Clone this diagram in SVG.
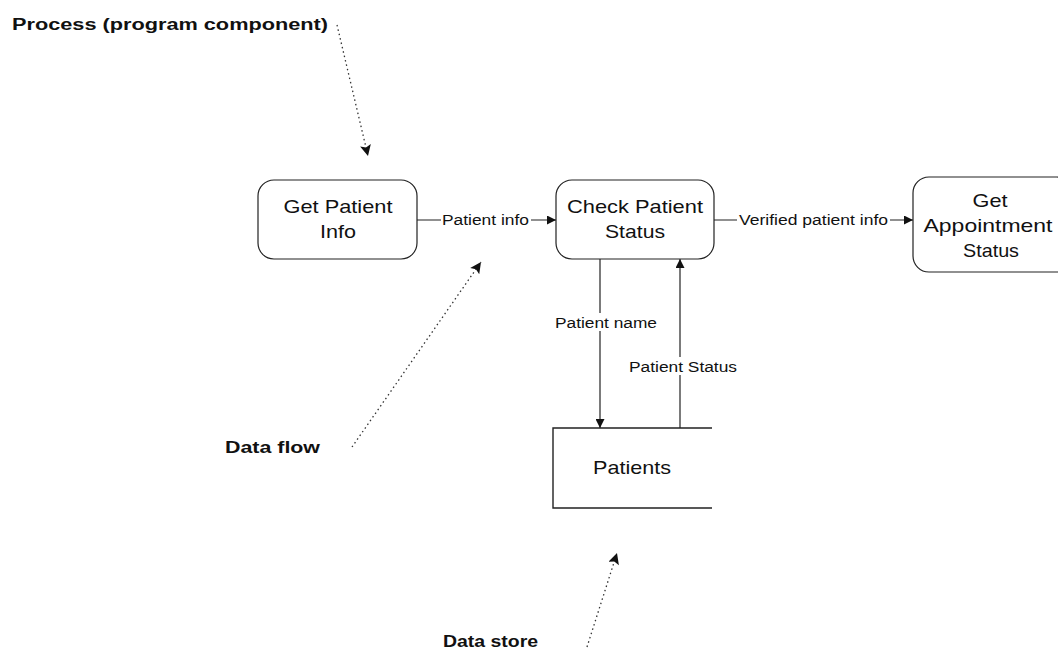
<svg xmlns="http://www.w3.org/2000/svg" width="1058" height="656" viewBox="0 0 1058 656">
  <defs>
    <marker id="arrow" viewBox="0 0 10 10" refX="10" refY="5" markerWidth="10" markerHeight="9" markerUnits="userSpaceOnUse" orient="auto">
      <path d="M0,0 L10,5 L0,10 z" fill="#111"/>
    </marker>
    <marker id="pointer" viewBox="0 0 10 10" refX="10" refY="5" markerWidth="13" markerHeight="11" markerUnits="userSpaceOnUse" orient="auto">
      <path d="M0,0 L10,5 L0,10 L2,5 z" fill="#111"/>
    </marker>
    <style>
      .proc { fill: #fff; stroke: #222; stroke-width: 1.2; }
      .store { fill: none; stroke: #222; stroke-width: 1.4; }
      .flow { fill: none; stroke: #222; stroke-width: 1.2; }
      .note { fill: none; stroke: #333; stroke-width: 1.3; stroke-dasharray: 1.5 3; }
      .t { font-family: "Liberation Sans", Arial, sans-serif; fill: #111; }
      .big { font-size: 19px; text-anchor: middle; }
      .lbl { font-size: 14px; }
      .callout { font-size: 16px; font-weight: bold; }
      .bg { fill: #fff; }
    </style>
  </defs>

  <!-- data flows -->
  <g id="connectors">
    <line class="flow" x1="417" y1="220" x2="556" y2="220" marker-end="url(#arrow)"/>
    <rect class="bg" x="441" y="210" width="90" height="18"/>
    <text class="t lbl" x="442" y="225" textLength="87" lengthAdjust="spacingAndGlyphs">Patient info</text>

    <line class="flow" x1="714" y1="220" x2="913" y2="220" marker-end="url(#arrow)"/>
    <rect class="bg" x="737" y="210" width="153" height="18"/>
    <text class="t lbl" x="739" y="225" textLength="149" lengthAdjust="spacingAndGlyphs">Verified patient info</text>

    <line class="flow" x1="600" y1="259" x2="600" y2="428" marker-end="url(#arrow)"/>
    <rect class="bg" x="553" y="313" width="106" height="18"/>
    <text class="t lbl" x="555" y="328" textLength="102" lengthAdjust="spacingAndGlyphs">Patient name</text>

    <line class="flow" x1="680" y1="428" x2="680" y2="259" marker-end="url(#arrow)"/>
    <rect class="bg" x="627" y="357" width="112" height="18"/>
    <text class="t lbl" x="629" y="372" textLength="108" lengthAdjust="spacingAndGlyphs">Patient Status</text>
  </g>

  <!-- processes -->
  <g id="get-patient-info">
    <rect class="proc" x="258" y="180" width="159" height="79" rx="16" ry="16"/>
    <text class="t big" x="338" y="213" textLength="109" lengthAdjust="spacingAndGlyphs">Get Patient</text>
    <text class="t big" x="338" y="238" textLength="36" lengthAdjust="spacingAndGlyphs">Info</text>
  </g>

  <g id="check-patient-status">
    <rect class="proc" x="556" y="180" width="158" height="79" rx="16" ry="16"/>
    <text class="t big" x="635" y="213" textLength="136" lengthAdjust="spacingAndGlyphs">Check Patient</text>
    <text class="t big" x="635" y="238" textLength="60" lengthAdjust="spacingAndGlyphs">Status</text>
  </g>

  <g id="get-appointment-status">
    <rect class="proc" x="913" y="177" width="160" height="95" rx="16" ry="16"/>
    <text class="t big" x="990" y="207" textLength="35" lengthAdjust="spacingAndGlyphs">Get</text>
    <text class="t big" x="988" y="232" textLength="129" lengthAdjust="spacingAndGlyphs">Appointment</text>
    <text class="t big" x="991" y="257" textLength="56" lengthAdjust="spacingAndGlyphs">Status</text>
  </g>

  <!-- data store: open on the right -->
  <g id="patients-store">
    <path class="store" d="M712,428 H553 V508 H712"/>
    <text class="t big" x="632" y="474" textLength="78" lengthAdjust="spacingAndGlyphs">Patients</text>
  </g>

  <!-- legend callouts -->
  <g id="callout-process">
    <text class="t callout" x="12" y="30" textLength="316" lengthAdjust="spacingAndGlyphs">Process (program component)</text>
    <line class="note" x1="337" y1="25" x2="368" y2="156" marker-end="url(#pointer)"/>
  </g>

  <g id="callout-data-flow">
    <text class="t callout" x="225" y="453" textLength="95" lengthAdjust="spacingAndGlyphs">Data flow</text>
    <line class="note" x1="352" y1="447" x2="481" y2="262" marker-end="url(#pointer)"/>
  </g>

  <g id="callout-data-store">
    <text class="t callout" x="443" y="647" textLength="95" lengthAdjust="spacingAndGlyphs">Data store</text>
    <line class="note" x1="587" y1="647" x2="617" y2="553" marker-end="url(#pointer)"/>
  </g>
</svg>
